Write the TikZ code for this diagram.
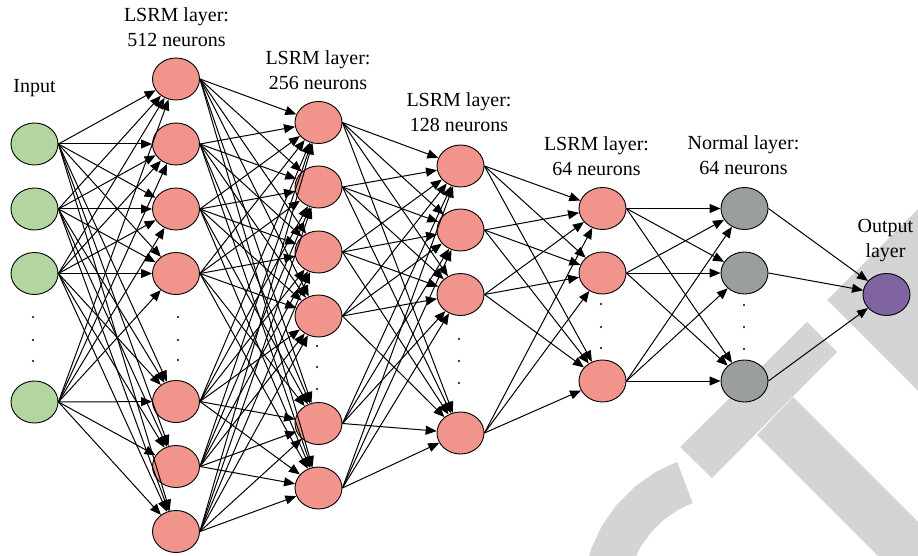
\documentclass[tikz,border=0pt]{standalone}
\usepackage{fontspec}
\setmainfont{Liberation Serif}
\usetikzlibrary{shapes.geometric,arrows.meta}
\definecolor{nsalmon}{RGB}{241,148,140}
\definecolor{ngreen}{RGB}{179,214,161}
\definecolor{ngrey}{RGB}{154,158,158}
\definecolor{npurple}{RGB}{128,100,162}
\definecolor{wmark}{RGB}{212,212,212}
\newcommand{\twoline}[2]{\vtop{\halign{\hfil##\hfil\cr#1\cr#2\cr}}}
\begin{document}
\begin{tikzpicture}[x=1pt,y=-1pt,
  neuron/.style={ellipse,draw=black,line width=0.9pt,minimum width=47pt,minimum height=42pt,inner sep=0pt},
  conn/.style={line width=1pt,-{Triangle[length=11pt,width=9pt]}},
  lbl/.style={anchor=base,inner sep=0pt,font=\fontsize{20}{25}\selectfont},
  wm/.style={fill=wmark}]
\useasboundingbox (0,0) rectangle (918,556);
% watermark
\begin{scope}
\clip (0,0) rectangle (918,556);
\fill[wm] (807,322) -- (837,352) -- (712,478) -- (680,447) -- cycle;
\fill[wm] (793,397) -- (960,564) -- (886,564) -- (757,435) -- cycle;
\fill[wm] (827,300) -- (940,187) -- (940,413) -- cycle;
\fill[wm] (677.0,461.8) -- (656.0,471.8) -- (634.9,486.6) -- (616.6,504.9) -- (601.8,526.0)
  -- (590.9,549.4) -- (584.2,574.3) -- (627.6,581.9) -- (632.3,564.4) -- (639.9,548.0)
  -- (650.3,533.2) -- (663.1,520.3) -- (678.0,509.9) -- (692.7,502.9) -- cycle;
\end{scope}
% neurons
\foreach \y [count=\i] in {144,209,273.5,402}
  \node[neuron,fill=ngreen] (i\i) at (34.5,\y) {};
\foreach \y [count=\i] in {79,144,209,273.5,401.5,466.5,531.5}
  \node[neuron,fill=nsalmon] (a\i) at (176,\y) {};
\foreach \y [count=\i] in {122.5,187,252,316,423.5,488}
  \node[neuron,fill=nsalmon] (b\i) at (318.5,\y) {};
\foreach \y [count=\i] in {166,230,294.5,433}
  \node[neuron,fill=nsalmon] (c\i) at (460.5,\y) {};
\foreach \y [count=\i] in {208.5,273,381}
  \node[neuron,fill=nsalmon] (d\i) at (602.5,\y) {};
\foreach \y [count=\i] in {208.5,273,381}
  \node[neuron,fill=ngrey] (e\i) at (744.5,\y) {};
\node[neuron,fill=npurple] (o) at (886.5,294.5) {};
% connections
\foreach \s in {1,...,4} \foreach \t in {1,...,7} \draw[conn] (i\s.east) -- (a\t);
\foreach \s in {1,...,7} \foreach \t in {1,...,6} \draw[conn] (a\s.east) -- (b\t);
\foreach \s in {1,...,6} \foreach \t in {1,...,4} \draw[conn] (b\s.east) -- (c\t);
\foreach \s in {1,...,4} \foreach \t in {1,...,3} \draw[conn] (c\s.east) -- (d\t);
\foreach \s in {1,...,3} \foreach \t in {1,...,3} \draw[conn] (d\s.east) -- (e\t);
\foreach \s in {1,...,3} \draw[conn] (e\s.east) -- (o);
% ellipsis dots
\foreach \x/\ya/\yb/\yc in {33/317/340/361, 178/317/340/360, 317/346/367/389, 459/339/361/383, 601/304/327/348, 744/305/327/349}
  \foreach \y in {\ya,\yb,\yc} \fill (\x,\y) circle[radius=1.2pt];
% labels
\node[lbl] (tin) at (34.5,93) {Input};
\node[lbl] (t512) at (176.5,22) {\twoline{LSRM layer:}{512 neurons}};
\node[lbl] (t256) at (318,65) {\twoline{LSRM layer:}{256 neurons}};
\node[lbl] (t128) at (459,107) {\twoline{LSRM layer:}{128 neurons}};
\node[lbl] (t64) at (596.5,151) {\twoline{LSRM layer:}{64 neurons}};
\node[lbl] (tnorm) at (743.5,150) {\twoline{Normal layer:}{64 neurons}};
\node[lbl] (tout) at (885.5,233) {\twoline{Output}{layer}};
\end{tikzpicture}
\end{document}
